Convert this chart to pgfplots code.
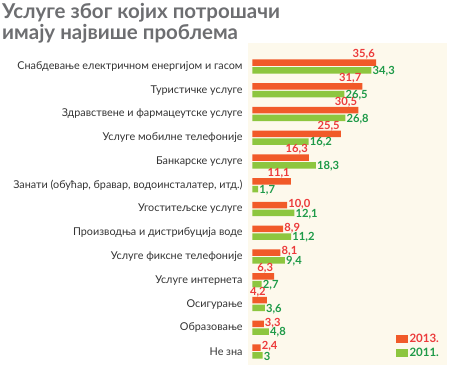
\documentclass[border=0pt]{standalone}
\usepackage{fontspec}
\setmainfont{Lato}
\usepackage{pgfplots}
\usepackage{pgfplotstable}
\pgfplotsset{compat=1.18}
\definecolor{cream}{HTML}{FDF9EC}
\definecolor{barred}{HTML}{F15A29}
\definecolor{bargreen}{HTML}{8DC63F}
\definecolor{txtred}{HTML}{EC3B3B}
\definecolor{txtgreen}{HTML}{1E9A48}
\definecolor{titlegray}{HTML}{6D6E71}
% 2013 values, labels above bar end
\pgfplotstableread{
y r rl
12 35.6 35,6
11 31.7 31,7
10 30.5 30,5
9 25.5 25,5
8 16.3 16,3
7 11.1 11,1
3 6.3 6,3
2 4.2 4,2
}\redabove
% 2013 values, labels right of bar
\pgfplotstableread{
y r rl
6 10.0 10,0
5 8.9 8,9
4 8.1 8,1
1 3.3 3,3
0 2.4 2,4
}\redright
% 2011 values
\pgfplotstableread{
y g gl
12 34.3 34,3
11 26.5 26,5
10 26.8 26,8
9 16.2 16,2
8 18.3 18,3
7 1.7 1,7
6 12.1 12,1
5 11.2 11,2
4 9.4 9,4
3 2.7 2,7
2 3.6 3,6
1 4.8 4,8
0 3 3
}\greentab
\begin{document}
\begin{tikzpicture}
\useasboundingbox (0,0) rectangle (450pt,368pt);
\node[anchor=north west, inner sep=0pt, align=left, font=\fontsize{20.5}{21.5}\selectfont\bfseries, text=titlegray] at (2pt,365pt) {Услуге због којих потрошачи\\имају највише проблема};
\begin{axis}[
  at={(248pt,3pt)}, anchor=south west,
  scale only axis, width=199pt, height=322pt,
  xmin=-1.24, xmax=56.03, ymin=-0.568, ymax=12.99,
  xbar, bar width=6.5pt,
  axis line style={draw=none}, tick style={draw=none},
  xtick=\empty,
  ytick={0,...,12},
  yticklabels={Не зна, Образовање, Осигурање, Услуге интернета, Услуге фиксне телефоније, Производња и дистрибуција воде, Угоститељске услуге, {Занати (обућар, бравар, водоинсталатер, итд.)}, Банкарске услуге, Услуге мобилне телефоније, Здравствене и фармацеутске услуге, Туристичке услуге, Снабдевање електричном енергијом и гасом},
  yticklabel style={font=\fontsize{10.8}{12}\selectfont, text=black!80, inner sep=0pt, xshift=-1pt},
  axis background/.style={fill=cream},
  clip=false,
  legend style={at={(0.7435,0.1025)}, anchor=north west, draw=none, fill=none, font=\fontsize{11.5}{13}\selectfont\bfseries, row sep=0pt, inner sep=0pt, nodes={inner sep=2pt}},
  legend cell align=left,
]
\addplot[forget plot, fill=barred, draw=none, bar shift=3.9pt,
  point meta=explicit symbolic, nodes near coords,
  nodes near coords style={anchor=south east, yshift=2pt, inner sep=1pt, text=txtred, font=\fontsize{11.2}{12}\selectfont\bfseries}]
  table[x=r, y=y, meta=rl] {\redabove};
\addplot[forget plot, fill=barred, draw=none, bar shift=3.9pt,
  point meta=explicit symbolic, nodes near coords,
  nodes near coords style={anchor=west, yshift=1pt, inner sep=1pt, text=txtred, font=\fontsize{11.2}{12}\selectfont\bfseries}]
  table[x=r, y=y, meta=rl] {\redright};
\addplot[forget plot, fill=bargreen, draw=none, bar shift=-3.9pt,
  point meta=explicit symbolic, nodes near coords,
  nodes near coords style={anchor=west, yshift=-1pt, inner sep=1pt, text=txtgreen, font=\fontsize{11.2}{12}\selectfont\bfseries}]
  table[x=g, y=y, meta=gl] {\greentab};
\addlegendimage{legend image code/.code={\fill[barred] (0pt,-3.5pt) rectangle (11pt,3.5pt);}}
\addlegendentry{\textcolor{txtred}{2013.}}
\addlegendimage{legend image code/.code={\fill[bargreen] (0pt,-3.5pt) rectangle (11pt,3.5pt);}}
\addlegendentry{\textcolor{txtgreen}{2011.}}
\end{axis}
\end{tikzpicture}
\end{document}
